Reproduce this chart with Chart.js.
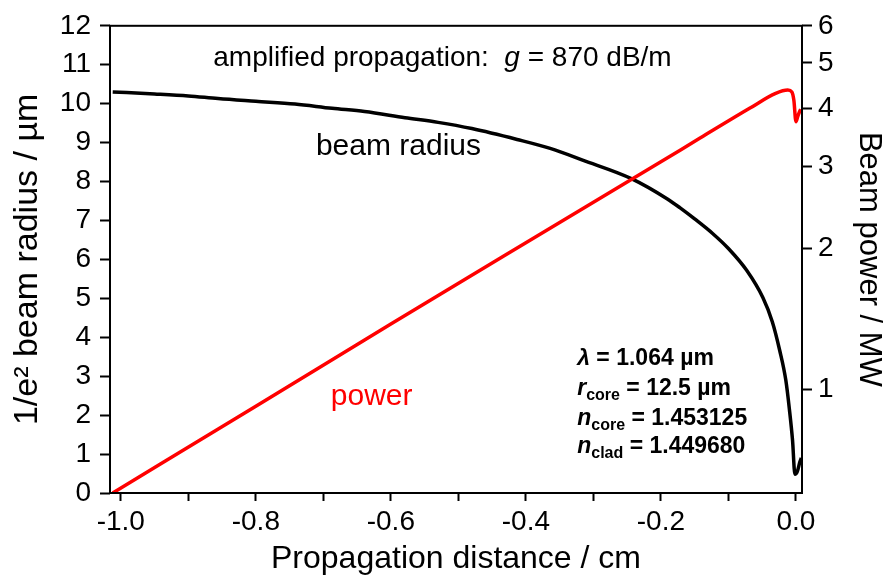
<!DOCTYPE html>
<html>
<head>
<meta charset="utf-8">
<script src="https://cdn.jsdelivr.net/npm/chart.js@4.4.1/dist/chart.umd.min.js"></script>
<style>
  html, body { margin: 0; padding: 0; background: #fff; }
  #wrap { width: 885px; height: 582px; }
</style>
</head>
<body>
<div id="wrap"><canvas id="myChart"></canvas></div>
<script>
// beam radius (µm) vs propagation distance (cm)
const radiusX = [-1.012, -0.95, -0.90, -0.856, -0.80, -0.742, -0.687, -0.639, -0.579, -0.530,
    -0.48, -0.413, -0.364, -0.316, -0.243, -0.191, -0.172, -0.15, -0.123, -0.10,
    -0.073, -0.049, -0.035, -0.024, -0.015, -0.0096, -0.005, -0.0015, 0.002, 0.006, 0.008];
const radiusVals = [10.30, 10.25, 10.20, 10.13, 10.06, 9.99, 9.88, 9.80, 9.64, 9.52,
    9.36, 9.08, 8.85, 8.55, 8.07, 7.56, 7.33, 7.04, 6.66, 6.28,
    5.72, 5.02, 4.40, 3.66, 2.90, 2.14, 1.35, 0.48, 0.55, 0.81, 0.90];

// beam power (MW), right log axis
const powerX = [-1.012, -0.8, -0.6, -0.4, -0.2, -0.142, -0.068, -0.03, -0.012, -0.006, -0.003, 0.0, 0.003, 0.007];
const powerVals = [0.60, 0.92, 1.38, 2.06, 3.07, 3.45, 4.00, 4.30, 4.37, 4.33, 4.15, 3.74, 3.85, 3.98];

const xTicks = [-1.0, -0.9, -0.8, -0.7, -0.6, -0.5, -0.4, -0.3, -0.2, -0.1, 0.0];
const xTickLabels = ['-1.0', '', '-0.8', '', '-0.6', '', '-0.4', '', '-0.2', '', '0.0'];
const leftTicks = [0, 1, 2, 3, 4, 5, 6, 7, 8, 9, 10, 11, 12];
const rightTicks = [1, 2, 3, 4, 5, 6];

const FONT = "'Liberation Sans', Arial, sans-serif";

const toPoints = (xs, ys) => xs.map((x, i) => ({ x, y: ys[i] }));
const setTicks = vals => scale => { scale.ticks = vals.map(v => ({ value: v })); };

// draws a row of text pieces with different fonts / offsets
function drawRuns(ctx, x, y, runs) {
    runs.forEach(r => {
        ctx.font = r.font;
        ctx.fillStyle = r.color || '#000';
        ctx.fillText(r.t, x, y + (r.dy || 0));
        x += ctx.measureText(r.t).width;
    });
}

const textPlugin = {
    id: 'textPlugin',
    afterDatasetsDraw(chart) {
        const { ctx, chartArea: a, scales: { x, y } } = chart;
        ctx.save();
        ctx.strokeStyle = '#000';
        ctx.lineWidth = 2;
        ctx.strokeRect(a.left, a.top, a.right - a.left, a.bottom - a.top);

        ctx.textBaseline = 'alphabetic';
        ctx.textAlign = 'left';
        const px = v => x.getPixelForValue(v);
        const py = v => y.getPixelForValue(v);

        const norm = s => `${s}px ${FONT}`;
        const ital = s => `italic ${s}px ${FONT}`;
        const bold = s => `bold ${s}px ${FONT}`;
        const bi = s => `italic bold ${s}px ${FONT}`;

        drawRuns(ctx, px(-0.863), py(10.97), [
            { t: 'amplified propagation:  ', font: norm(28) },
            { t: 'g', font: ital(28) },
            { t: ' = 870 dB/m', font: norm(28) }
        ]);
        drawRuns(ctx, px(-0.711), py(8.67), [{ t: 'beam radius', font: norm(30) }]);
        drawRuns(ctx, px(-0.689), py(2.27), [{ t: 'power', font: norm(30), color: '#ff0000' }]);

        const bx = px(-0.324);
        drawRuns(ctx, bx, py(3.28), [
            { t: 'λ', font: bi(23) },
            { t: ' = 1.064 µm', font: bold(23) }
        ]);
        drawRuns(ctx, bx, py(2.51), [
            { t: 'r', font: bi(23) },
            { t: 'core', font: bold(16), dy: 5 },
            { t: ' = 12.5 µm', font: bold(23) }
        ]);
        drawRuns(ctx, bx, py(1.75), [
            { t: 'n', font: bi(23) },
            { t: 'core', font: bold(16), dy: 5 },
            { t: ' = 1.453125', font: bold(23) }
        ]);
        drawRuns(ctx, bx, py(1.02), [
            { t: 'n', font: bi(23) },
            { t: 'clad', font: bold(16), dy: 5 },
            { t: ' = 1.449680', font: bold(23) }
        ]);
        ctx.restore();
    }
};

const tickFont = { family: FONT, size: 28 };
const titleFont = { family: FONT, size: 31, lineHeight: 1 };
const tickGrid = len => ({ drawOnChartArea: false, drawTicks: true, tickLength: len, tickWidth: 2, tickColor: '#000' });

const ctx = document.getElementById('myChart').getContext('2d');
new Chart(ctx, {
    type: 'line',
    data: {
        datasets: [
            {
                label: 'power',
                data: toPoints(powerX, powerVals),
                yAxisID: 'yRight',
                borderColor: '#ff0000',
                borderWidth: 3.5,
                pointRadius: 0,
                cubicInterpolationMode: 'monotone',
                order: 0
            },
            {
                label: 'beam radius',
                data: toPoints(radiusX, radiusVals),
                yAxisID: 'y',
                borderColor: '#000',
                borderWidth: 3.5,
                pointRadius: 0,
                cubicInterpolationMode: 'monotone',
                order: 1
            }
        ]
    },
    options: {
        responsive: true,
        maintainAspectRatio: false,
        animation: false,
        layout: { padding: { top: 16, left: 0, right: 0, bottom: 0 } },
        plugins: { legend: { display: false }, tooltip: { enabled: false } },
        scales: {
            x: {
                type: 'linear',
                min: -1.016,
                max: 0.009,
                afterBuildTicks: setTicks(xTicks),
                afterFit: s => { s.height = 89; },
                ticks: {
                    callback: (v, i) => xTickLabels[i],
                    autoSkip: false, maxRotation: 0,
                    font: tickFont, color: '#000', padding: 4
                },
                grid: tickGrid(8),
                border: { display: false },
                title: {
                    display: true, text: 'Propagation distance / cm',
                    font: { family: FONT, size: 32, lineHeight: 1 }, color: '#000', padding: { top: 0, bottom: 7 }
                }
            },
            y: {
                position: 'left',
                min: 0,
                max: 12,
                afterBuildTicks: setTicks(leftTicks),
                afterFit: s => { s.width = 110; },
                ticks: { font: tickFont, color: '#000', padding: 9 },
                grid: tickGrid(10),
                border: { display: false },
                title: {
                    display: true, text: '1/e² beam radius / µm',
                    font: { family: FONT, size: 34, lineHeight: 1 }, color: '#000', padding: { top: 11, bottom: 0 }
                }
            },
            yRight: {
                type: 'logarithmic',
                position: 'right',
                min: 0.6,
                max: 6,
                afterBuildTicks: setTicks(rightTicks),
                afterFit: s => { s.width = 83; },
                ticks: { callback: v => String(v), font: tickFont, color: '#000', padding: 6 },
                grid: tickGrid(10),
                border: { display: false },
                title: {
                    display: true, text: 'Beam power / MW',
                    font: titleFont, color: '#000', padding: { top: 1, bottom: 0 }
                }
            }
        }
    },
    plugins: [textPlugin]
});
</script>
</body>
</html>
